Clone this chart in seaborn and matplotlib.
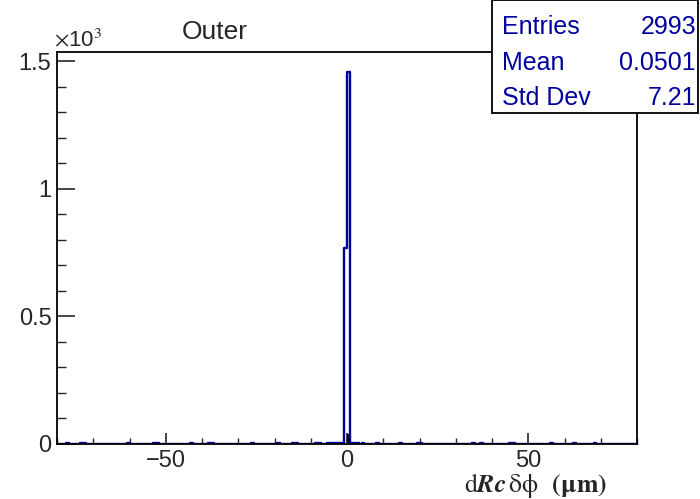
import numpy as np
import pandas as pd
import seaborn as sns
import matplotlib
matplotlib.use("Agg")
import matplotlib.pyplot as plt
from matplotlib.ticker import MultipleLocator, FuncFormatter
from matplotlib.patches import Rectangle

# Histogram: 200 bins from -80 to 80 um (bin width 0.8)
X_MIN, X_MAX, N_BINS = -80.0, 80.0, 200

# bin contents (tails are only a few counts per bin)
counts = [
    1, 0, 1, 2, 1, 0, 0, 1, 2, 2,  1, 0, 0, 0, 1, 1, 0, 1, 0, 0,
    0, 1, 1, 0, 2, 1, 1, 0, 0, 1,  0, 0, 1, 2, 2, 1, 1, 0, 0, 1,
    1, 0, 0, 1, 0, 1, 2, 1, 0, 0,  1, 1, 2, 2, 1, 0, 1, 0, 0, 1,
    1, 0, 1, 1, 0, 0, 1, 2, 1, 1,  0, 1, 0, 0, 1, 1, 2, 1, 1, 0,
    1, 2, 2, 1, 0, 1, 1, 0, 1, 2,  2, 1, 1, 2, 3, 2, 2, 3, 4, 770,
    1459, 4, 3, 2, 1, 2, 1, 0, 1, 1,  2, 1, 0, 1, 1, 0, 0, 1, 2, 1,
    0, 0, 1, 1, 2, 2, 1, 0, 0, 1,  0, 1, 0, 0, 1, 1, 0, 1, 1, 0,
    1, 0, 0, 2, 1, 1, 2, 1, 0, 0,  0, 1, 1, 0, 0, 1, 2, 2, 1, 0,
    1, 0, 0, 1, 1, 0, 1, 0, 0, 1,  2, 1, 1, 0, 0, 1, 0, 1, 2, 1,
    0, 1, 1, 0, 0, 2, 1, 0, 1, 1,  0, 0, 1, 1, 0, 1, 0, 0, 1, 0,
]

# small black overlay at the bin just above zero
black_edges = [0.0, 0.8]
black_counts = [40]

stats_labels = ["Entries", "Mean", "Std Dev"]
stats_values = ["2993", "0.0501", "7.21"]

BLUE = "#00009e"

edges = list(np.linspace(X_MIN, X_MAX, N_BINS + 1))
centers = [0.5 * (edges[i] + edges[i + 1]) for i in range(N_BINS)]
df = pd.DataFrame({"x": centers, "n": counts})

sns.set_style("ticks")
plt.rcParams["font.family"] = ["Liberation Sans", "DejaVu Sans"]
plt.rcParams["mathtext.fontset"] = "stix"

fig = plt.figure(figsize=(7.0, 4.99), dpi=100)
ax = fig.add_axes([57 / 700, 55 / 499, 580 / 700, 392 / 499])

sns.histplot(data=df, x="x", weights="n", bins=edges, element="step",
             fill=False, color=BLUE, linewidth=1.7, ax=ax)
sns.histplot(x=[0.4], weights=black_counts, bins=black_edges, element="bars",
             fill=True, color="black", alpha=1, linewidth=0, ax=ax)

ax.set_xlim(X_MIN, X_MAX)
ax.set_ylim(0, 1537)
ax.set_xlabel("")
ax.set_ylabel("")

for s in ax.spines.values():
    s.set_linewidth(1.3)
    s.set_color("black")

ax.xaxis.set_major_locator(MultipleLocator(50))
ax.xaxis.set_minor_locator(MultipleLocator(10))
ax.yaxis.set_major_locator(MultipleLocator(500))
ax.yaxis.set_minor_locator(MultipleLocator(100))
ax.xaxis.set_major_formatter(FuncFormatter(lambda v, p: f"{v:.0f}".replace("-", "\u2212")))
ax.yaxis.set_major_formatter(FuncFormatter(lambda v, p: f"{v / 1000:g}"))

ax.tick_params(axis="x", which="major", direction="in", length=8, width=1.2,
               labelsize=17, pad=4, top=False)
ax.tick_params(axis="x", which="minor", direction="in", length=4, width=1.0, top=False)
ax.tick_params(axis="y", which="major", direction="in", length=13, width=1.2,
               labelsize=17, pad=4, right=False)
ax.tick_params(axis="y", which="minor", direction="in", length=6.5, width=1.0, right=False)

# x10^3 multiplier
fig.text(54 / 700, 1 - 40 / 499, r"$\times$10$^{3}$", fontsize=16, ha="left", va="center")

# title
fig.text(215 / 700, 1 - 32 / 499, "Outer", fontsize=19, ha="center", va="center")

# x label
fig.text(607 / 700, 1 - 486 / 499,
         r"$\mathrm{d}\boldsymbol{Rc}\,\mathrm{\delta\phi}$  $\mathbf{(\mu m)}$",
         fontsize=18.5, ha="right", va="center")

# stats box
box = Rectangle((492 / 700, 1 - 113 / 499), 206 / 700, 113 / 499,
                transform=fig.transFigure, facecolor="white", edgecolor="black",
                linewidth=1.3, zorder=5)
fig.patches.append(box)
for i, (lab, val) in enumerate(zip(stats_labels, stats_values)):
    y = 1 - (27 + 35.5 * i) / 499
    fig.text(502 / 700, y, lab, fontsize=18, color=BLUE, ha="left", va="center", zorder=6)
    fig.text(696 / 700, y, val, fontsize=18, color=BLUE, ha="right", va="center", zorder=6)

fig.savefig("out.png", dpi=100)
